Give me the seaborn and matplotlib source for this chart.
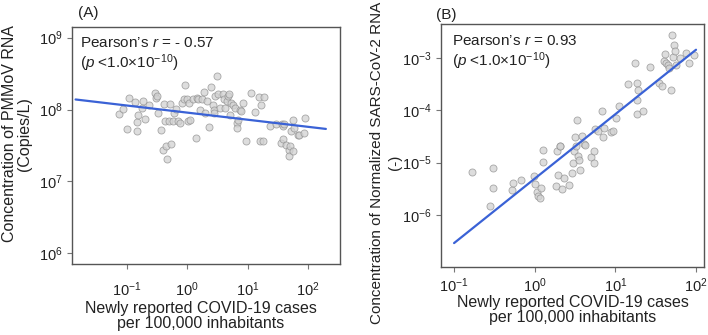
import numpy as np
import pandas as pd
import seaborn as sns
import matplotlib
matplotlib.use("Agg")
import matplotlib.pyplot as plt
from matplotlib.ticker import LogFormatterSciNotation, NullLocator

# panel A: cases vs PMMoV concentration (copies/L)
cases_a = [0.073, 0.086, 0.100, 0.109, 0.137, 0.146, 0.146, 0.152, 0.177, 0.188,
           0.200, 0.236, 0.293, 0.305, 0.313, 0.333, 0.368, 0.402, 0.412, 0.428,
           0.44, 0.468, 0.492, 0.518, 0.538, 0.588, 0.610, 0.650, 0.711, 0.757,
           0.807, 0.881, 0.927, 1.0, 1.03, 1.06, 1.11, 1.26, 1.37, 1.46,
           1.52, 1.62, 1.77, 1.88, 1.93, 2.14, 2.28, 2.49, 2.68, 2.75,
           2.82, 2.93, 3.05, 3.20, 3.54, 3.92, 4.12, 4.28, 4.56, 4.74,
           4.92, 5.05, 5.38, 5.73, 6.1, 6.67, 6.67, 6.93, 7.38, 7.87,
           8.37, 9.5, 11.5, 13.0, 15.4, 16.2, 16.8, 17.9, 18.6, 23.1,
           29.7, 35.9, 37.2, 38.2, 39.2, 40.7, 43.4, 48.0, 49.2, 50.5,
           52.5, 55.9, 57.3, 58.7, 67.6, 72.0, 90.4, 87.1]
pmmov = [8.7e7, 1.03e8, 5.4e7, 1.44e8, 1.27e8, 6.7e7, 5.0e7, 8.5e7, 1.05e8, 1.31e8,
         7.4e7, 1.14e8, 1.71e8, 1.45e8, 1.54e8, 9.0e7, 5.2e7, 2.77e7, 1.21e8, 6.9e7,
         3.08e7, 2.05e7, 6.9e7, 1.21e8, 3.36e7, 6.9e7, 9.0e7, 1.02e8, 6.9e7, 6.4e7,
         1.24e8, 1.41e8, 2.16e8, 1.38e8, 6.9e7, 1.24e8, 7.1e7, 1.41e8, 4.03e7, 1.44e8,
         1.38e8, 1.0e8, 1.41e8, 1.75e8, 9.0e7, 1.31e8, 5.7e7, 2.07e8, 1.14e8, 1.0e8,
         9.0e7, 1.54e8, 2.92e8, 1.62e8, 1.05e8, 1.62e8, 1.38e8, 1.05e8, 1.31e8, 1.54e8,
         1.67e8, 8.5e7, 1.24e8, 1.14e8, 1.05e8, 6.5e7, 5.5e7, 7.2e7, 1.0e8, 9.5e7,
         1.24e8, 3.6e7, 1.71e8, 9.2e7, 1.49e8, 3.6e7, 1.14e8, 3.6e7, 1.49e8, 5.85e7,
         6.2e7, 3.43e7, 6.2e7, 5.85e7, 3.9e7, 6.2e7, 3.25e7, 2.77e7, 2.23e7, 3.08e7,
         5.0e7, 2.62e7, 7.1e7, 5.5e7, 4.48e7, 4.48e7, 7.65e7, 4.72e7]
fit_a_x = [0.0141, 198]
fit_a_y = [1.38e8, 5.37e7]

# panel B: cases vs normalized SARS-CoV-2 RNA
cases_b = [0.169, 0.277, 0.305, 0.308, 0.520, 0.540, 0.685, 0.966, 1.01, 1.08,
           1.11, 1.16, 1.21, 1.25, 1.25, 1.83, 1.88, 1.95, 2.05, 2.07,
           2.21, 2.28, 2.67, 2.94, 2.97, 3.09, 3.15, 3.24, 3.33, 3.40,
           3.56, 3.67, 3.85, 4.11, 4.19, 4.97, 5.36, 5.47, 5.57, 6.01,
           6.74, 6.94, 7.14, 8.81, 9.23, 10.2, 11.2, 14.4, 17.5, 18.5,
           18.5, 18.5, 18.9, 21.8, 27.1, 35.1, 37.4, 39.6, 41.2, 42.4,
           44.5, 46.6, 48.9, 49.9, 51.8, 52.8, 54.8, 56.4, 63.8, 75.0,
           82.6, 95.3]
sars = [6.56e-6, 1.49e-6, 3.24e-6, 7.83e-6, 3.01e-6, 4.04e-6, 4.69e-6, 5.43e-6, 3.87e-6, 2.68e-6,
        2.25e-6, 2.09e-6, 3.24e-6, 1.02e-5, 1.71e-5, 3.6e-6, 1.63e-5, 5.68e-6, 2.04e-5, 2.1e-5,
        3.1e-6, 5.05e-6, 3.76e-6, 6.28e-6, 9.77e-6, 1.63e-5, 3.07e-5, 2.1e-5, 6.41e-5, 1.31e-5,
        1.13e-5, 7.28e-6, 3.16e-5, 2.29e-5, 2.19e-5, 1.25e-5, 1.68e-5, 9.77e-6, 4.38e-5, 3.95e-5,
        9.53e-5, 3.07e-5, 4.57e-5, 3.78e-5, 3.95e-5, 7.1e-5, 1.19e-4, 3.23e-4, 8.02e-4, 3.32e-4,
        1.59e-4, 8.47e-5, 2.4e-4, 9.82e-5, 6.73e-4, 3.32e-4, 2.95e-4, 8.63e-4, 1.21e-3, 8.02e-4,
        7.24e-4, 6.44e-4, 2.4e-4, 2.8e-3, 1.04e-3, 1.8e-3, 1.34e-3, 7.45e-4, 1.0e-3, 1.25e-3,
        8.02e-4, 1.16e-3]
fit_b_x = [0.1, 100]
fit_b_y = [2.87e-7, 1.445e-3]

sns.set_style("ticks")
plt.rcParams['font.family'] = ['Liberation Sans', 'DejaVu Sans']
plt.rcParams['mathtext.fontset'] = 'custom'
plt.rcParams['mathtext.rm'] = 'Liberation Sans'
plt.rcParams['mathtext.it'] = 'Liberation Sans:italic'
plt.rcParams['mathtext.default'] = 'regular'

text_c = '#222222'
spine_c = '#555555'
pt_face = '#d2d2d2'
pt_edge = '#8f8f8f'
line_c = '#3a62d6'
lab_fs = 11.5

fig = plt.figure(figsize=(7.08, 3.35), dpi=100)
ax_a = fig.add_axes([0.1017, 0.212, 0.3785, 0.7075])
ax_b = fig.add_axes([0.623, 0.203, 0.3715, 0.725])

dfa = pd.DataFrame({'cases': cases_a, 'conc': pmmov})
dfb = pd.DataFrame({'cases': cases_b, 'conc': sars})

for ax, df, fx, fy in [(ax_a, dfa, fit_a_x, fit_a_y), (ax_b, dfb, fit_b_x, fit_b_y)]:
    ax.set_xscale('log')
    ax.set_yscale('log')
    sns.scatterplot(df, x='cases', y='conc', s=26, color=pt_face, edgecolor=pt_edge,
                    linewidth=0.6, alpha=0.75, ax=ax, legend=False, zorder=2)
    sns.lineplot(x=fx, y=fy, color=line_c, linewidth=1.6, ax=ax, zorder=3)
    for sp in ax.spines.values():
        sp.set_visible(True)
        sp.set_color(spine_c)
        sp.set_linewidth(1.0)
    ax.tick_params(axis='both', which='major', length=3.5, width=0.8, color='#777777',
                   labelsize=10.5, labelcolor=text_c, pad=3.5)
    ax.xaxis.set_minor_locator(NullLocator())
    ax.yaxis.set_minor_locator(NullLocator())
    ax.xaxis.set_major_formatter(LogFormatterSciNotation())
    ax.yaxis.set_major_formatter(LogFormatterSciNotation())
    ax.set_xlabel("Newly reported COVID-19 cases\nper 100,000 inhabitants", fontsize=lab_fs,
                  color=text_c, linespacing=1.0)
    ax.grid(False)

ax_a.set_xlim(0.0123, 339)
ax_a.set_ylim(7.08e5, 1.41e9)
ax_a.set_xticks([0.1, 1, 10, 100])
ax_a.set_yticks([1e6, 1e7, 1e8, 1e9])
ax_a.tick_params(axis='x', pad=8)
ax_a.xaxis.set_label_coords(0.48, -0.155)
ax_a.set_ylabel("Concentration of PMMoV RNA\n(Copies/L)", fontsize=lab_fs, color=text_c,
                linespacing=0.95)
ax_a.yaxis.set_label_coords(-0.15, 0.55)

ax_b.set_xlim(0.069, 126)
ax_b.set_ylim(1.0e-7, 4.47e-3)
ax_b.set_xticks([0.1, 1, 10, 100])
ax_b.set_yticks([1e-6, 1e-5, 1e-4, 1e-3])
ax_b.tick_params(axis='x', pad=3)
ax_b.xaxis.set_label_coords(0.5, -0.115)
ax_b.set_ylabel("Concentration of Normalized SARS-CoV-2 RNA\n(-)", fontsize=11,
                color=text_c, linespacing=1.3)
ax_b.yaxis.set_label_coords(-0.15, 0.43)

ax_a.text(0.03, 0.96, "Pearson\u2019s $\\it{r}$ = - 0.57\n($\\it{p}$ <1.0\u00d710$^{-10}$)",
          transform=ax_a.transAxes, va='top', ha='left', fontsize=11, color=text_c,
          linespacing=1.15)
ax_b.text(0.04, 0.96, "Pearson\u2019s $\\it{r}$ = 0.93\n($\\it{p}$ <1.0\u00d710$^{-10}$)",
          transform=ax_b.transAxes, va='top', ha='left', fontsize=11, color=text_c,
          linespacing=1.15)

fig.text(78 / 708, 1 - 13 / 335, "(A)", fontsize=11, color=text_c, va='center', ha='left')
fig.text(436 / 708, 1 - 15 / 335, "(B)", fontsize=11, color=text_c, va='center', ha='left')

fig.savefig("out.png", dpi=100, facecolor='white')
